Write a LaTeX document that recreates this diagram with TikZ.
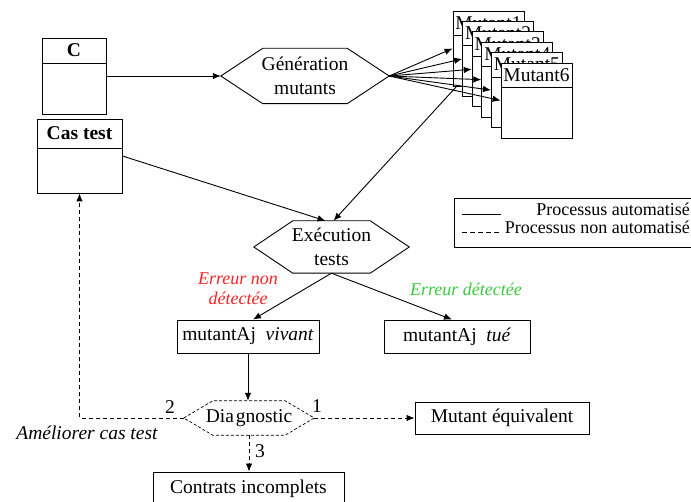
\documentclass[tikz,border=0pt]{standalone}
\usepackage{fontspec}
\setmainfont{Liberation Serif}
\usetikzlibrary{arrows.meta,calc}

\definecolor{errred}{RGB}{245,35,35}
\definecolor{errgreen}{RGB}{60,200,60}

\tikzset{
  stroke/.style={line width=0.9pt},
  flow/.style={stroke, -{Latex[length=8pt,width=6.5pt]}},
  manual/.style={flow, dash pattern=on 4pt off 3pt},
  plainbox/.style={draw, stroke, fill=white, inner sep=0pt},
  hexlabel/.style={inner sep=0pt, align=center},
  tag/.style={inner sep=0pt, align=center, font=\fontsize{18}{20}\selectfont\itshape},
  legendtext/.style={inner sep=0pt, font=\fontsize{18}{20}\selectfont},
}

% hexagon outline around a node: #2 = node name, #3 = horizontal inset of the corners
\newcommand{\hexoutline}[3][]{%
  \draw[stroke,#1] (#2.west) -- ($(#2.north west)+(#3,0)$) -- ($(#2.north east)+(-#3,0)$)
    -- (#2.east) -- ($(#2.south east)+(-#3,0)$) -- ($(#2.south west)+(#3,0)$) -- cycle;}

% class-like box with a title compartment:
% name, centre x, centre y, width, height, title height, title
\newcommand{\umlbox}[7]{%
  \node[plainbox, minimum width=#4, minimum height=#5] (#1) at (#2,#3) {};
  \draw[stroke] ($(#1.north west)+(0,#6)$) -- ($(#1.north east)+(0,#6)$);
  \node[inner sep=0pt] (#1-title) at ($(#1.north)+(0,#6/2)$) {#7};}

\begin{document}
\begin{tikzpicture}[x=1pt, y=-1pt, font=\fontsize{19.5}{23.5}\selectfont]
\useasboundingbox (0,0) rectangle (691,502);

% inputs
\umlbox{c}{74}{76}{64}{76}{26}{\textbf{C}}
\umlbox{cas}{79.5}{156}{85}{74}{30}{\textbf{Cas test}}

% mutant generation
\node[hexlabel, minimum width=168, minimum height=55] (g) at (305,76) {Génération\\mutants};
\hexoutline{g}{42}

% stack of generated mutants
\foreach \i in {1,...,6}{
  \pgfmathsetmacro{\mx}{453+9.6*(\i-1)+35.5}
  \pgfmathsetmacro{\my}{11+10.4*(\i-1)+37.5}
  \umlbox{m\i}{\mx}{\my}{71}{75}{25}{Mutant\i}
}
\foreach \i in {1,...,6}{
  \draw[flow] (g.east) -- (m\i.west);
}

% test execution
\node[hexlabel, minimum width=155, minimum height=52] (e) at (331.5,247) {Exécution\\tests};
\hexoutline{e}{39}

\draw[flow] (c.east) -- (g.west);
\draw[flow] (cas.east) -- ($(e.north)+(-6,0)$);
\draw[flow] ($(m1.south west)+(4,0)$) -- ($(e.north)+(2,0)$);

% outcomes
\node[plainbox, minimum width=142, minimum height=33] (v) at (248,336.5) {mutantAj\ \ \textit{vivant}};
\node[plainbox, minimum width=146, minimum height=33] (t) at (457,336.5) {mutantAj\ \ \textit{tué}};
\draw[flow] (e.south) -- ($(v.north)+(5,0)$);
\draw[flow] (e.south) -- ($(t.north)+(-5,0)$);
\node[tag, text=errred] (lnon) at (238,289) {Erreur non\\détectée};
\node[tag, text=errgreen] (ldet) at (466,289) {Erreur détectée};

% diagnostic
\node[hexlabel, minimum width=130, minimum height=34] (d) at (249,418) {Dia\kern2ptgnostic};
\hexoutline[line width=0.7pt, dash pattern=on 3pt off 2pt]{d}{29}
\draw[flow] (v.south) -- (v.south |- d.north);

\node[plainbox, minimum width=174, minimum height=32] (eq) at (502,418) {Mutant équivalent};
\node[plainbox, minimum width=191, minimum height=34] (k) at (248.5,489) {Contrats incomplets};

\draw[manual] (d.east) -- (eq.west);
\draw[manual] (d.south) -- (d.south |- k.north);
\draw[manual] (d.west) -| (cas.south);

\node[inner sep=0pt] (n1) at (317,406) {1};
\node[inner sep=0pt] (n2) at (170,407) {2};
\node[inner sep=0pt] (n3) at (260,451) {3};
\node[inner sep=0pt, font=\fontsize{19.5}{23.5}\selectfont\itshape] (ameliorer) at (87,433) {Améliorer cas test};

% legend
\node[draw, stroke, minimum width=239, minimum height=49, inner sep=0pt] (legend) at (573.5,222.5) {};
\coordinate (la) at (462,214);
\coordinate (lb) at (501,214);
\coordinate (lc) at (462,232);
\coordinate (ld) at (500,232);
\draw[stroke] (la) -- (lb);
\draw[stroke, dash pattern=on 5pt off 3pt] (lc) -- (ld);
\node[legendtext, anchor=mid east] (lauto) at (690,213) {Processus automatisé};
\node[legendtext, anchor=mid east] (lmanu) at (690,231) {Processus non automatisé};
\end{tikzpicture}
\end{document}
